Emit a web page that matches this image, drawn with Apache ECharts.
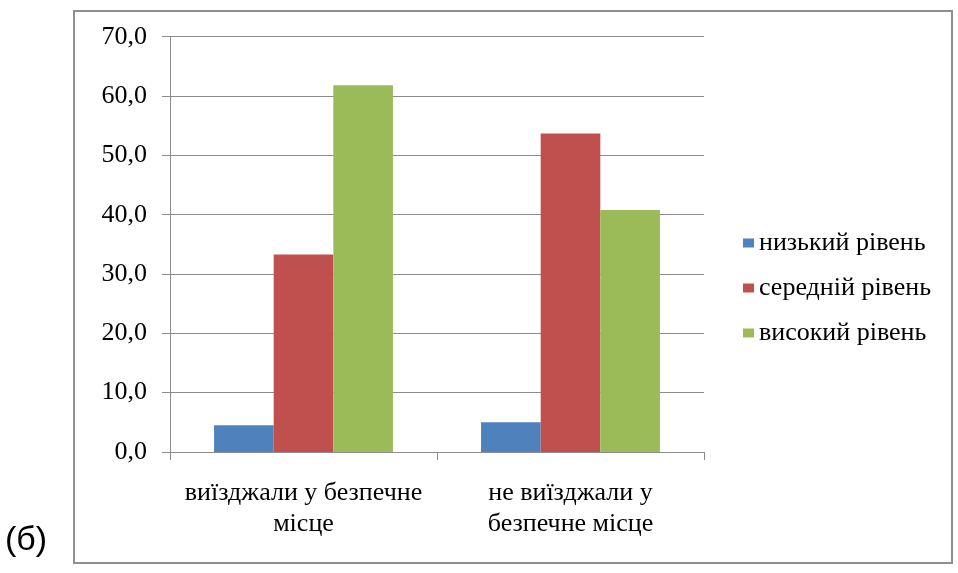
<!DOCTYPE html>
<html>
<head>
<meta charset="utf-8">
<script src="https://cdn.jsdelivr.net/npm/echarts@6/dist/echarts.min.js"></script>
<style>
  html, body { margin: 0; padding: 0; background: #fff; }
  #chart { width: 958px; height: 573px; }
</style>
</head>
<body>
<div id="chart"></div>
<script>
// Categories (two-line labels) and the three level series, in percent
const categories = ['виїзджали у безпечне\nмісце', 'не виїзджали у\nбезпечне місце'];
const seriesNames = ['низький рівень', 'середній рівень', 'високий рівень'];
const lowLevel = [4.5, 5.0];
const midLevel = [33.3, 53.7];
const highLevel = [61.8, 40.8];
const yTicks = { min: 0, max: 70, interval: 10 };
const panelLabel = '(б)';

const colors = ['#4F81BD', '#C0504D', '#9BBB59'];
const serif = '"Liberation Serif", "DejaVu Serif", serif';

const chart = echarts.init(document.getElementById('chart'), null, { renderer: 'canvas' });

const values = [lowLevel, midLevel, highLevel];

chart.setOption({
  animation: false,
  backgroundColor: '#ffffff',
  color: colors,
  grid: { left: 170, right: 254, top: 36.7, bottom: 121, containLabel: false },
  legend: {
    orient: 'vertical',
    left: 743,
    top: 229,
    padding: 0,
    icon: 'rect',
    itemWidth: 11,
    itemHeight: 9,
    itemGap: 17,
    selectedMode: false,
    textStyle: { fontFamily: serif, fontSize: 26, color: '#000', lineHeight: 28, padding: [0, 0, 0, 0] },
    data: seriesNames
  },
  xAxis: {
    type: 'category',
    data: categories,
    axisLine: { show: true, lineStyle: { color: '#8c8c8c', width: 1 } },
    axisTick: { show: true, length: 8, interval: 0, lineStyle: { color: '#8c8c8c' } },
    axisLabel: { interval: 0, fontFamily: serif, fontSize: 26, color: '#000', lineHeight: 31, margin: 26 }
  },
  yAxis: {
    type: 'value',
    min: yTicks.min,
    max: yTicks.max,
    interval: yTicks.interval,
    axisLine: { show: true, lineStyle: { color: '#8c8c8c', width: 1 } },
    axisTick: { show: true, length: 8, lineStyle: { color: '#8c8c8c' } },
    splitLine: { show: true, lineStyle: { color: '#8c8c8c', width: 1 } },
    axisLabel: {
      fontFamily: serif, fontSize: 26, color: '#000', margin: 23,
      formatter: v => v.toFixed(1).replace('.', ',')
    }
  },
  series: seriesNames.map((name, i) => ({
    name,
    type: 'bar',
    data: values[i],
    barGap: '0%',
    barCategoryGap: '33%',
    itemStyle: { color: colors[i] }
  })),
  graphic: [
    {
      type: 'rect',
      shape: { x: 74, y: 11, width: 878, height: 552 },
      style: { fill: null, stroke: '#8f8f8f', lineWidth: 2 },
      silent: true
    },
    {
      type: 'text',
      left: 5,
      top: 524,
      style: { text: panelLabel, font: '34px "Liberation Sans", Arial, sans-serif', fill: '#000' },
      silent: true
    }
  ]
});
</script>
</body>
</html>
